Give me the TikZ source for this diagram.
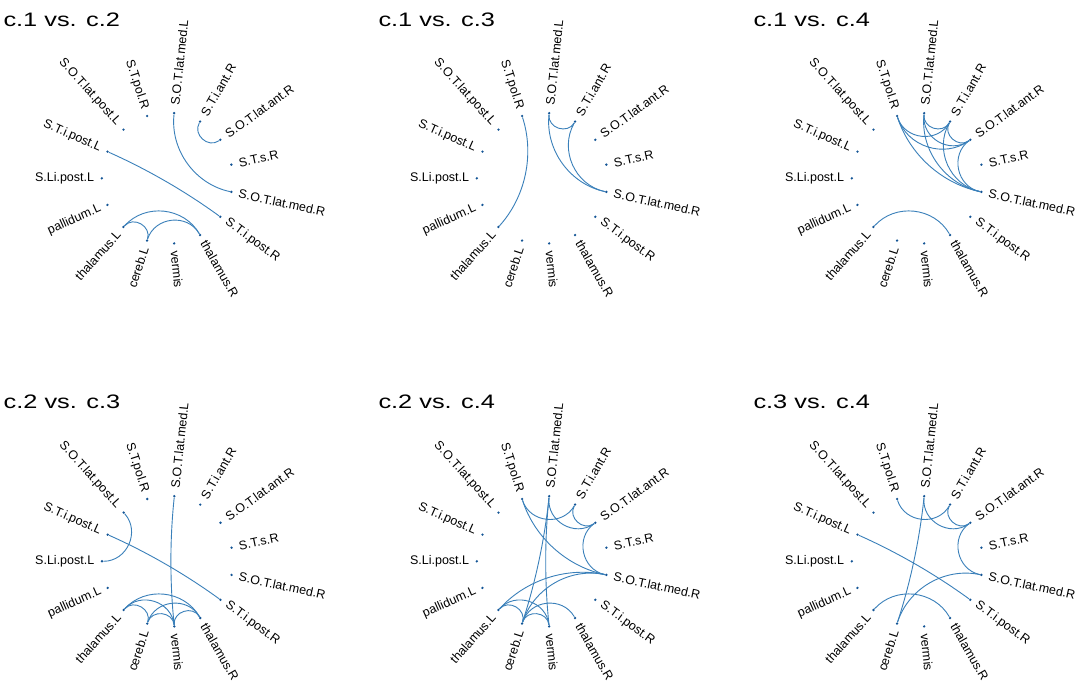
\documentclass[tikz,border=0pt]{standalone}
\usepackage{fontspec}
\setmainfont{Liberation Sans}
\usepackage{graphicx}
\usetikzlibrary{calc}
\definecolor{edgeblue}{RGB}{58,128,186}
\definecolor{dotblue}{RGB}{20,85,150}
\tikzset{
  chord/.style={draw=edgeblue, line width=0.9pt},
  dotnode/.style={circle, fill=dotblue, inner sep=0pt, minimum size=2.6pt},
  lab/.style={font=\fontsize{12.5}{14}\selectfont, inner sep=1.5pt, text=black},
  ttl/.style={font=\fontsize{19.5}{22}\selectfont, inner sep=0pt, anchor=base west},
}
\newcommand{\cedge}[3]{%
  \pgfmathsetmacro\cA{180-24*#2}%
  \pgfmathsetmacro\cB{180-24*#3}%
  \pgfmathsetmacro\cSep{min(abs(\cA-\cB),360-abs(\cA-\cB))}%
  \pgfmathsetmacro\cK{4/3*tan((180-\cSep)/4)*tan(\cSep/2)}%
  \draw[chord] (p#1n#2) .. controls ($(p#1n#2)!\cK!(p#1c)$) and ($(p#1n#3)!\cK!(p#1c)$) .. (p#1n#3);%
}
\begin{document}
\begin{tikzpicture}[x=1pt,y=1pt]
\fill[white] (0,0) rectangle (1084,692);
\useasboundingbox (0,0) rectangle (1084,692);
\foreach \pn/\cx/\cy/\ty/\ttext in {1/167.3/513.7/665.3/c.1 vs. c.2, 2/542.3/513.7/665.3/c.1 vs. c.3, 3/917.3/513.7/665.3/c.1 vs. c.4, 4/167.5/130.7/283.7/c.2 vs. c.3, 5/542.3/130.7/283.7/c.2 vs. c.4, 6/917.3/130.7/283.7/c.3 vs. c.4}{
  \coordinate (p\pn c) at (\cx,\cy);
  \node[ttl] (p\pn t) at (\cx-164,\ty) {\scalebox{1.3}[1]{\ttext}};
  \foreach \i/\lab in {0/S.Li.post.L, 1/S.T.i.post.L, 2/S.O.T.lat.post.L, 3/S.T.pol.R, 4/S.O.T.lat.med.L, 5/S.T.i.ant.R, 6/S.O.T.lat.ant.R, 7/S.T.s.R, 8/S.O.T.lat.med.R, 9/S.T.i.post.R, 10/thalamus.R, 11/vermis, 12/cereb.L, 13/thalamus.L, 14/pallidum.L}{
    \pgfmathsetmacro\ang{180-24*\i}
    \pgfmathtruncatemacro\isleft{(\ang>90)+(\ang<-90)}
    \ifnum\isleft>0 \def\anc{east}\pgfmathsetmacro\rot{\ang-180}\else\def\anc{west}\let\rot\ang\fi
    \node[dotnode] (p\pn n\i) at ($(p\pn c)+(\ang:65.5)$) {};
    \node[lab, anchor=\anc, rotate=\rot] (p\pn l\i) at ($(p\pn c)+(\ang:71.5)$) {\lab};
  }
}
\foreach \i/\j in {5/6,4/8,1/9,13/10,13/12,12/10} {\cedge{1}{\i}{\j}}
\foreach \i/\j in {3/13,4/5,4/8,5/8} {\cedge{2}{\i}{\j}}
\foreach \i/\j in {3/5,3/6,3/8,4/5,4/6,4/8,5/6,5/8,6/8,13/10} {\cedge{3}{\i}{\j}}
\foreach \i/\j in {2/0,1/9,4/11,13/12,13/11,13/10,12/11,12/10,11/10} {\cedge{4}{\i}{\j}}
\foreach \i/\j in {3/5,3/8,4/6,4/11,4/12,5/6,6/8,8/12,8/13,12/13,11/13,10/12,11/12} {\cedge{5}{\i}{\j}}
\foreach \i/\j in {3/5,4/6,5/6,6/8,1/9,4/12,8/12,13/10} {\cedge{6}{\i}{\j}}
\end{tikzpicture}
\end{document}
